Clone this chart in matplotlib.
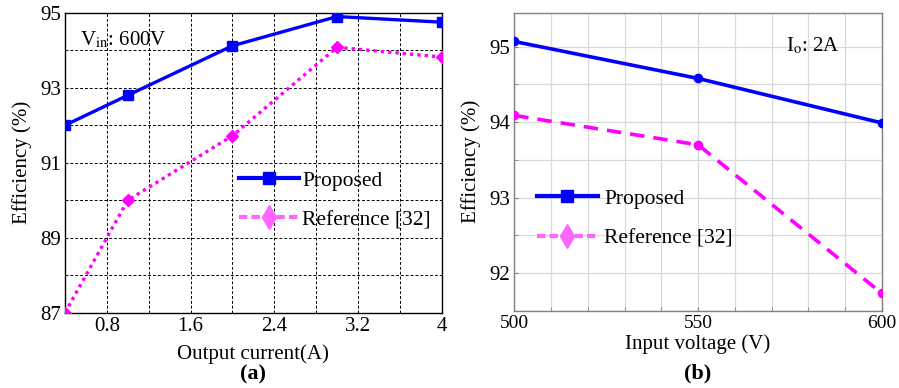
import matplotlib
matplotlib.use("Agg")
import matplotlib.pyplot as plt
from matplotlib.lines import Line2D

plt.rcParams["font.family"] = ["Liberation Serif", "DejaVu Serif"]
plt.rcParams["mathtext.fontset"] = "stix"

# (a) efficiency vs output current, Vin = 600 V
current_a = [0.4, 1.0, 2.0, 3.0, 4.0]
proposed_a = [92.0, 92.8, 94.12, 94.9, 94.75]
reference_a = [87.0, 90.0, 91.72, 94.08, 93.82]

# (b) efficiency vs input voltage, Io = 2 A
voltage_b = [500, 550, 600]
proposed_b = [95.07, 94.58, 93.99]
reference_b = [94.09, 93.70, 91.73]

BLUE = "#0000ff"
MAGENTA = "#ff00ff"
LEG_MAG = "#ff66ff"

fig = plt.figure(figsize=(8.99, 3.88), dpi=100)
ax1 = fig.add_axes([0.0723, 0.194, 0.419, 0.773])
ax2 = fig.add_axes([0.572, 0.199, 0.409, 0.768])

# ---- panel (a)
ax1.plot(current_a, proposed_a, color=BLUE, lw=2.4, marker="s", ms=7.5, zorder=3)
ax1.plot(current_a, reference_a, color=MAGENTA, lw=2.4, ls=(0, (1, 1.2)),
         marker="D", ms=6.5, zorder=3)
ax1.set_xlim(0.4, 4.0)
ax1.set_ylim(87, 95)
ax1.set_xticks([0.4, 0.8, 1.2, 1.6, 2.0, 2.4, 2.8, 3.2, 3.6, 4.0])
ax1.set_xticklabels(["", "0.8", "", "1.6", "", "2.4", "", "3.2", "", "4"])
ax1.set_yticks([87, 88, 89, 90, 91, 92, 93, 94, 95])
ax1.set_yticklabels(["87", "", "89", "", "91", "", "93", "", "95"])
ax1.grid(True, color="black", ls=(0, (3, 2)), lw=0.7)
ax1.tick_params(length=0, labelsize=15, pad=3)
for s in ax1.spines.values():
    s.set_linewidth(1.0)
ax1.set_xlabel("Output current(A)", fontsize=15, labelpad=6)
ax1.set_ylabel("Efficiency (%)", fontsize=15, labelpad=6)
ax1.text(0.04, 0.91, r"V$_{\rm in}$: 600V", transform=ax1.transAxes, fontsize=15,
         va="center", ha="left")
ax1.text(0.5, -0.207, "(a)", transform=ax1.transAxes, fontsize=16, fontweight="bold",
         ha="center", va="center")

h1 = [Line2D([], [], color=BLUE, lw=3, marker="s", ms=9),
      Line2D([], [], color=LEG_MAG, lw=3, ls=(0, (2, 1)), marker="d", ms=12)]
ax1.legend(h1, ["Proposed", "Reference [32]"], loc="center left",
           bbox_to_anchor=(0.41, 0.375), frameon=False, fontsize=15.5,
           handlelength=2.8, handletextpad=0.15, labelspacing=0.9)

# ---- panel (b)
ax2.plot(voltage_b, proposed_b, color=BLUE, lw=2.6, marker="o", ms=6, zorder=3)
ax2.plot(voltage_b, reference_b, color=MAGENTA, lw=2.6, ls=(0, (4, 2.5)),
         marker="o", ms=6, zorder=3)
ax2.set_xlim(500, 600)
ax2.set_ylim(91.5, 95.45)
ax2.set_xticks(range(500, 601, 10), minor=True)
ax2.set_xticks([500, 550, 600])
ax2.set_yticks([91.5, 92, 92.5, 93, 93.5, 94, 94.5, 95], minor=True)
ax2.set_yticks([92, 93, 94, 95])
ax2.grid(True, which="both", color="#d9d9d9", lw=0.9)
ax2.tick_params(which="both", direction="in", length=3, color="#808080",
                labelsize=15, pad=3)
ax2.tick_params(axis="x", labelsize=14)
for s in ax2.spines.values():
    s.set_color("#808080")
    s.set_linewidth(1.0)
ax2.set_xlabel("Input voltage (V)", fontsize=15, labelpad=2)
ax2.set_ylabel("Efficiency (%)", fontsize=15, labelpad=6)
ax2.text(0.74, 0.89, r"I$_{\rm o}$: 2A", transform=ax2.transAxes, fontsize=15,
         va="center", ha="left")
ax2.text(0.5, -0.21, "(b)", transform=ax2.transAxes, fontsize=16, fontweight="bold",
         ha="center", va="center")

h2 = [Line2D([], [], color=BLUE, lw=3, marker="s", ms=9),
      Line2D([], [], color=LEG_MAG, lw=3, ls=(0, (2, 1)), marker="d", ms=12)]
ax2.legend(h2, ["Proposed", "Reference [32]"], loc="center left",
           bbox_to_anchor=(0.01, 0.31), frameon=False, fontsize=15.5,
           handlelength=2.8, handletextpad=0.3, labelspacing=0.9)

fig.savefig("out.png", dpi=100)
